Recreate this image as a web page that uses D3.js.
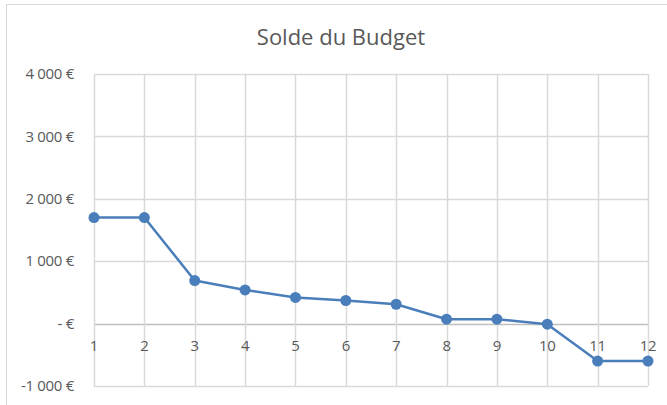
<!DOCTYPE html>
<html>
<head>
<meta charset="utf-8">
<script src="https://cdn.jsdelivr.net/npm/d3@7"></script>
<style>
  body { margin: 0; background: #fff; }
  #graph { width: 667px; height: 405px; }
  text { font-family: "Open Sans", "Liberation Sans", sans-serif; fill: #595959; }
</style>
</head>
<body>
<div id="graph"></div>
<script>
var months = [1, 2, 3, 4, 5, 6, 7, 8, 9, 10, 11, 12]
var solde = [1700, 1700, 690, 540, 420, 370, 310, 70, 70, -10, -600, -600]
var yTicks = [-1000, 0, 1000, 2000, 3000, 4000]
var yLabels = ["-1 000 €", "- €", "1 000 €", "2 000 €", "3 000 €", "4 000 €"]
var title = "Solde du Budget"

const width = 667, height = 405
const svg = d3.select("#graph").append("svg")
    .attr("width", width)
    .attr("height", height)

// chart border (cut by the screenshot on right and bottom)
svg.append("rect")
    .attr("x", 6.5).attr("y", 4.5)
    .attr("width", 700).attr("height", 450)
    .attr("fill", "none")
    .attr("stroke", "#d9d9d9")

const x = d3.scalePoint().domain(months).range([94, 648])
const y = d3.scaleLinear().domain([-1000, 4000]).range([386, 74])

// horizontal gridlines
svg.append("g")
    .selectAll("line")
    .data(yTicks)
    .enter().append("line")
        .attr("x1", 94).attr("x2", 648)
        .attr("y1", d => Math.round(y(d)) + 0.5)
        .attr("y2", d => Math.round(y(d)) + 0.5)
        .attr("stroke", d => d == 0 ? "#bfbfbf" : "#d9d9d9")
        .attr("stroke-width", 1.5)

// vertical gridlines
svg.append("g")
    .selectAll("line")
    .data(months)
    .enter().append("line")
        .attr("x1", d => Math.round(x(d)) + 0.5)
        .attr("x2", d => Math.round(x(d)) + 0.5)
        .attr("y1", y(4000)).attr("y2", y(-1000))
        .attr("stroke", "#d9d9d9")
        .attr("stroke-width", 1.5)

// y labels
svg.append("g")
    .selectAll("text")
    .data(yTicks)
    .enter().append("text")
        .attr("x", 74)
        .attr("y", d => y(d))
        .attr("dy", "0.35em")
        .attr("text-anchor", "end")
        .attr("font-size", 15)
        .attr("letter-spacing", -0.3)
        .text((d, i) => yLabels[i])

// x labels next to the zero line
svg.append("g")
    .selectAll("text")
    .data(months)
    .enter().append("text")
        .attr("x", d => x(d))
        .attr("y", y(0) + 27)
        .attr("text-anchor", "middle")
        .attr("font-size", 15)
        .attr("letter-spacing", -0.3)
        .text(d => d)

const line = d3.line().x((d, i) => x(months[i])).y(d => y(d))

svg.append("path")
    .datum(solde)
    .attr("fill", "none")
    .attr("stroke", "#4a7ebb")
    .attr("stroke-width", 2.5)
    .attr("stroke-linejoin", "round")
    .attr("d", line)

svg.append("g")
    .selectAll("circle")
    .data(solde)
    .enter().append("circle")
        .attr("cx", (d, i) => x(months[i]))
        .attr("cy", d => y(d))
        .attr("r", 5.5)
        .attr("fill", "#4a7ebb")

svg.append("text")
    .attr("x", 341)
    .attr("y", 45)
    .attr("text-anchor", "middle")
    .attr("font-size", 22)
    .text(title)
</script>
</body>
</html>
